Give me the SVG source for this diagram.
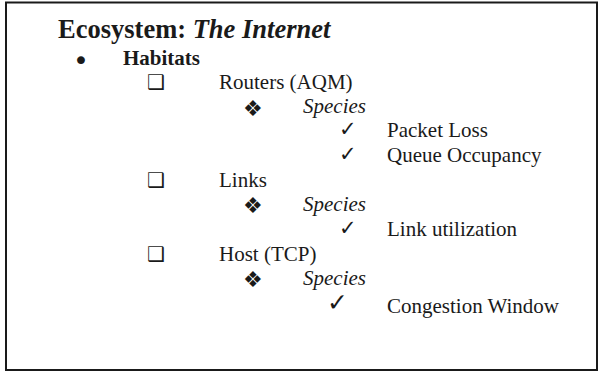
<svg xmlns="http://www.w3.org/2000/svg" width="599" height="372" viewBox="0 0 599 372">
  <style>
    .t { font-family: "Liberation Serif", "Times New Roman", serif; font-size: 21px; fill: #1a1a1a; }
    .title { font-family: "Liberation Serif", "Times New Roman", serif; font-size: 26.5px; font-weight: bold; fill: #1a1a1a; }
    .b { font-weight: bold; }
    .i { font-style: italic; }
    .sym { font-family: "DejaVu Sans", sans-serif; fill: #1a1a1a; }
    .dot { font-size: 27px; }
    .box { font-size: 20px; }
    .dia { font-size: 22px; }
    .chk { font-size: 21px; }
    .chk2 { font-size: 25px; }
  </style>
  <rect x="6" y="2.5" width="591" height="367.5" fill="#ffffff" stroke="#1a1a1a" stroke-width="2"/>

  <g id="title">
    <text class="title" x="58" y="38">Ecosystem: <tspan class="i">The Internet</tspan></text>
  </g>

  <g id="habitats">
    <text class="sym dot" x="73" y="70">•</text>
    <text class="t b" x="123" y="65">Habitats</text>
  </g>

  <g id="routers">
    <text class="sym box" x="147" y="89">❑</text>
    <text class="t" x="219" y="89">Routers (AQM)</text>
    <text class="sym dia" x="243" y="116">❖</text>
    <text class="t i" x="303" y="113">Species</text>
    <text class="sym chk" x="339" y="136">✓</text>
    <text class="t" x="387" y="137">Packet Loss</text>
    <text class="sym chk" x="339" y="161">✓</text>
    <text class="t" x="387" y="162">Queue Occupancy</text>
  </g>

  <g id="links">
    <text class="sym box" x="147" y="187">❑</text>
    <text class="t" x="219" y="187">Links</text>
    <text class="sym dia" x="243" y="213">❖</text>
    <text class="t i" x="303" y="211">Species</text>
    <text class="sym chk" x="339" y="235">✓</text>
    <text class="t" x="387" y="236">Link utilization</text>
  </g>

  <g id="host">
    <text class="sym box" x="147" y="261">❑</text>
    <text class="t" x="219" y="261">Host (TCP)</text>
    <text class="sym dia" x="243" y="287">❖</text>
    <text class="t i" x="303" y="285">Species</text>
    <text class="sym chk2" x="327" y="311">✓</text>
    <text class="t" x="387" y="313">Congestion Window</text>
  </g>

  <g id="connectors"></g>
</svg>
